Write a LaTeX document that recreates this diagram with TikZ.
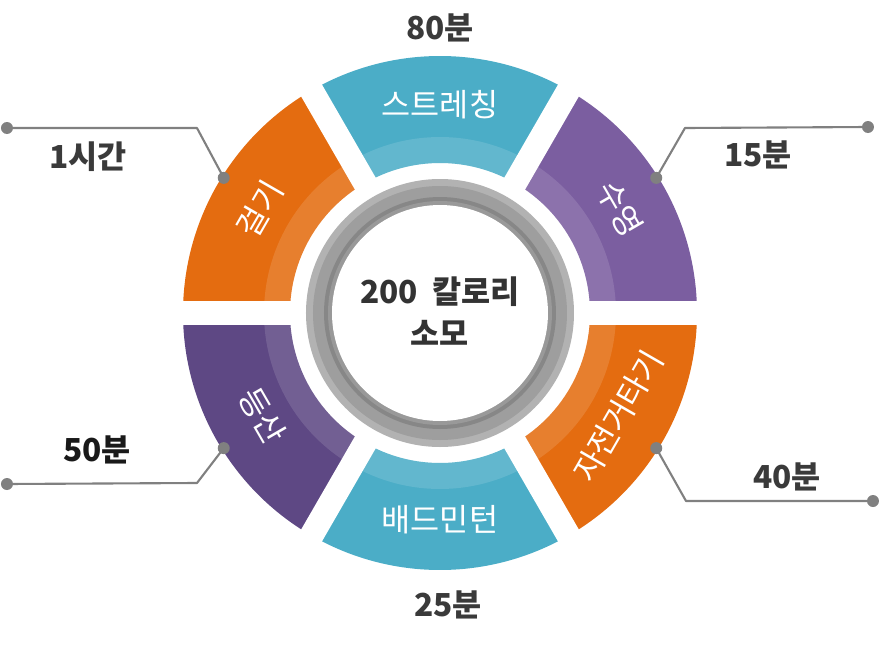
\documentclass[tikz,border=0pt]{standalone}
\usepackage{fontspec}
\newfontfamily\kr{Noto Sans CJK KR}
\usetikzlibrary{calc}
\definecolor{tealseg}{RGB}{75,173,199}
\definecolor{orangeseg}{RGB}{228,108,16}
\definecolor{purpletop}{RGB}{123,94,160}
\definecolor{purplebot}{RGB}{94,72,132}
\definecolor{linegray}{RGB}{128,128,128}
\definecolor{txtgray}{RGB}{58,58,58}

\begin{document}
\begin{tikzpicture}[x=0.02cm, y=0.02cm, line join=round,
  seglabel/.style={white, inner sep=1pt, font=\kr\fontsize{18}{20}\selectfont},
  vallabel/.style={txtgray, font=\kr\bfseries\fontsize{18}{20}\selectfont},
  dot/.style={circle, fill=linegray, inner sep=0pt, minimum size=0.24cm},
  conn/.style={linegray, line width=1.2pt}]
\useasboundingbox (-440,-337) rectangle (440,313);
% ring segments
\foreach \a/\c in {0/purpletop,60/tealseg,120/orangeseg,180/purplebot,240/tealseg,300/orangeseg}{
  \fill[\c] (\a:257) arc[start angle=\a, end angle=\a+60, radius=257]
    -- (\a+60:150) arc[start angle=\a+60, end angle=\a, radius=150] -- cycle;
  \fill[white, opacity=0.13] (\a:176) arc[start angle=\a, end angle=\a+60, radius=176]
    -- (\a+60:150) arc[start angle=\a+60, end angle=\a, radius=150] -- cycle;
}
\foreach \a in {0,60,...,300}
  \draw[white, line width=0.48cm] (0,0) -- (\a:280);
% center ring
\fill[black!30] (0,0) circle[radius=134];
\fill[black!38] (0,0) circle[radius=127];
\fill[black!47] (0,0) circle[radius=116];
\fill[black!40] (0,0) circle[radius=112];
\fill[white] (0,0) circle[radius=108];
\node[black!80, font=\kr\bfseries\fontsize{18}{24}\selectfont, align=center] (kcal) at (0,2) {200\ \ 칼로리\\소모};
% segment labels
\node[seglabel] (stretch) at (90:208) {스트레칭};
\node[seglabel, rotate=-60] (swim) at (30:208) {수영};
\node[seglabel, rotate=60] (walk) at (150:208) {걸기};
\node[seglabel, rotate=-60] (hike) at (210:205) {등산};
\node[seglabel] (badm) at (270:207) {배드민턴};
\node[seglabel, rotate=60] (bike) at (-30:206) {자전거타기};
% values
\node[vallabel] (t80) at (0,285) {80분};
\node[vallabel] (t25) at (8,-292) {25분};
\node[vallabel] (t1h) at (-352,156) {1시간};
\node[vallabel] (t15) at (318,158) {15분};
\node[vallabel, black!90] (t50) at (-343,-137) {50분};
\node[vallabel] (t40) at (347,-164) {40분};
% connectors
\coordinate (walkend) at (148:255);
\coordinate (swimend) at (32:255);
\coordinate (hikeend) at (212:255);
\coordinate (bikeend) at (-32:255);
\coordinate (walkbend) at (-243,185);
\coordinate (swimbend) at (245,185);
\coordinate (hikebend) at (-243,-170);
\coordinate (bikebend) at (246,-188);
\coordinate (walktip) at (-433,185);
\coordinate (swimtip) at (428,186);
\coordinate (hiketip) at (-433,-171);
\coordinate (biketip) at (433,-188);
\draw[conn] (walktip) -- (walkbend) -- (walkend);
\draw[conn] (swimtip) -- (swimbend) -- (swimend);
\draw[conn] (hiketip) -- (hikebend) -- (hikeend);
\draw[conn] (biketip) -- (bikebend) -- (bikeend);
\foreach \p in {walkend,swimend,hikeend,bikeend,walktip,swimtip,hiketip,biketip}
  \node[dot] at (\p) {};
\end{tikzpicture}
\end{document}
